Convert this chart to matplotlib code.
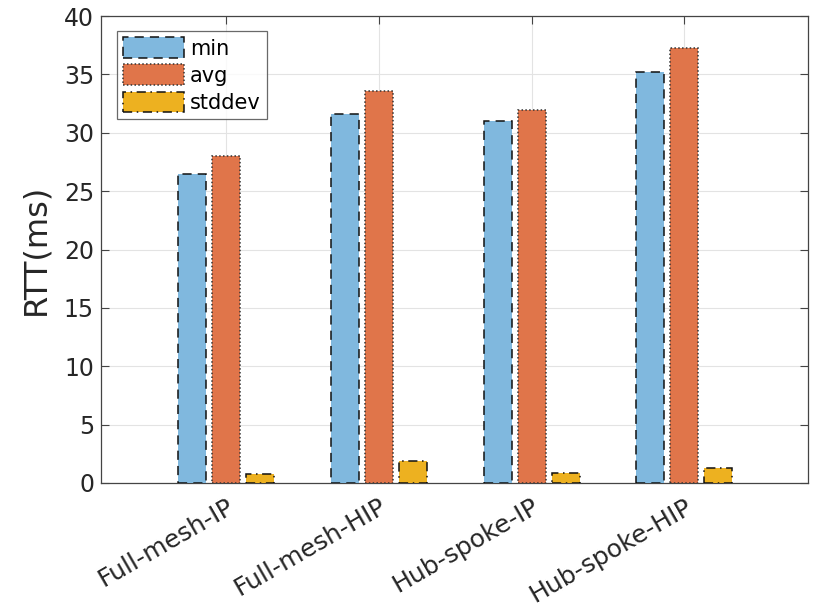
import matplotlib
matplotlib.use("Agg")
import matplotlib.pyplot as plt
import numpy as np

categories = ["Full-mesh-IP", "Full-mesh-HIP", "Hub-spoke-IP", "Hub-spoke-HIP"]
series_names = ["min", "avg", "stddev"]
min_vals = [26.5, 31.6, 31.0, 35.2]
avg_vals = [28.0, 33.6, 31.95, 37.25]
std_vals = [0.78, 1.85, 0.86, 1.27]

colors = ["#80b8de", "#e0754a", "#edb120"]
edge_colors = ["#111111", "#333333", "#111111"]
linestyles = [(0, (6, 4)), (0, (1, 1.5)), (0, (6, 3, 1, 3))]

plt.rcParams['font.family'] = ['DejaVu Sans']
fig = plt.figure(figsize=(8.13, 6.07), dpi=100)
ax = fig.add_axes([101/813, 1 - 483/607, (808-101)/813, (483-16)/607])

x = np.arange(1, len(categories) + 1)
offset = 0.223
width = 0.183
for i, (vals, name) in enumerate(zip([min_vals, avg_vals, std_vals], series_names)):
    ax.bar(x + (i - 1) * offset, vals, width, color=colors[i], edgecolor=edge_colors[i],
           linestyle=linestyles[i], linewidth=1.1, label=name, zorder=3)

ax.set_xlim(0.18, 4.81)
ax.set_ylim(0, 40)
ax.set_yticks(np.arange(0, 41, 5))
ax.set_xticks(x)
ax.set_xticklabels(categories, rotation=30, ha='right', rotation_mode='anchor')
ax.grid(True, color='#e3e3e3', linewidth=0.8, zorder=0)
ax.set_axisbelow(True)
ax.tick_params(direction='in', length=6, width=0.8, color='#444444',
               labelcolor='#262626', top=True, right=True)
ax.tick_params(axis='y', labelsize=17, pad=5)
ax.tick_params(axis='x', labelsize=18, pad=8)
for s in ax.spines.values():
    s.set_color('#444444')
    s.set_linewidth(0.9)
ax.set_ylabel("RTT(ms)", fontsize=23, color='#262626', labelpad=9)

leg = ax.legend(loc='upper left', fontsize=15, frameon=True, fancybox=False,
                edgecolor='#444444', handlelength=2.9, handleheight=1.15,
                borderpad=0.3, labelspacing=0.28, handletextpad=0.3,
                bbox_to_anchor=(16/707, 1 - 15/467), borderaxespad=0)
leg.get_frame().set_linewidth(0.9)

fig.savefig("out.png", dpi=100)
